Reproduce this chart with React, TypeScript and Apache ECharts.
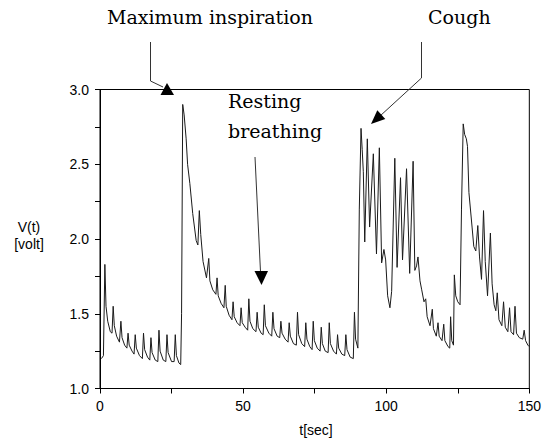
import React, { useEffect, useRef } from "react";
import * as echarts from "echarts";

// [t (sec), V (volt)]
const restingStart: number[][] = [
  [0.5, 1.2], [1.2, 1.22], [1.7, 1.83], [2.1, 1.55], [2.7, 1.45], [3.6, 1.38], [4.2, 1.37],
  [4.6, 1.55], [5.0, 1.42], [5.8, 1.35], [6.8, 1.31], [7.3, 1.45], [7.7, 1.34], [8.6, 1.29],
  [9.4, 1.27], [9.8, 1.37], [10.2, 1.29], [11.2, 1.25], [11.9, 1.23], [12.3, 1.36], [12.7, 1.27],
  [13.8, 1.22], [14.8, 1.2], [15.2, 1.37], [15.6, 1.26], [16.6, 1.21], [17.4, 1.19], [17.8, 1.34],
  [18.2, 1.24], [19.3, 1.19], [20.2, 1.18], [20.6, 1.39], [21.0, 1.25], [22.1, 1.19], [23.0, 1.18],
  [23.4, 1.36], [23.8, 1.24], [25.0, 1.18], [25.9, 1.18], [26.3, 1.36], [26.7, 1.22], [27.6, 1.17],
  [28.2, 1.16],
];
const maxInspiration: number[][] = [
  [28.5, 1.5], [28.9, 2.9], [29.4, 2.83], [30.1, 2.67], [30.6, 2.5], [31.4, 2.37], [32.4, 2.17],
  [33.6, 1.99], [34.2, 1.96], [34.7, 2.19], [35.2, 2.03], [36.0, 1.85], [37.2, 1.74], [38.0, 1.87],
  [38.4, 1.72], [39.4, 1.66], [40.5, 1.63], [40.9, 1.74], [41.3, 1.62], [42.3, 1.57], [43.3, 1.54],
  [43.75, 1.69], [44.1, 1.55], [45.1, 1.49], [46.1, 1.46],
];
const restingBreathing: number[][] = [
  [46.5, 1.58], [46.9, 1.48], [47.9, 1.44], [48.9, 1.42], [49.3, 1.54], [49.7, 1.44], [50.7, 1.41],
  [51.6, 1.39], [52.0, 1.6], [52.4, 1.45], [53.4, 1.4], [54.5, 1.38], [54.9, 1.51], [55.3, 1.41],
  [56.3, 1.37], [57.0, 1.36], [57.4, 1.56], [57.8, 1.42], [59.0, 1.37], [60.0, 1.35], [60.4, 1.51],
  [60.8, 1.4], [61.9, 1.35], [62.8, 1.34], [63.2, 1.45], [63.6, 1.37], [64.7, 1.33], [65.7, 1.31],
  [66.1, 1.44], [66.5, 1.35], [67.6, 1.3], [68.6, 1.29], [69.0, 1.51], [69.4, 1.36], [70.5, 1.3],
  [71.5, 1.28], [71.9, 1.44], [72.3, 1.33], [73.3, 1.28], [74.1, 1.26], [74.5, 1.45], [74.9, 1.32],
  [75.9, 1.27], [76.9, 1.25], [77.3, 1.41], [77.7, 1.3], [78.7, 1.25], [79.7, 1.24], [80.1, 1.44],
  [80.5, 1.3], [81.6, 1.25], [82.6, 1.23], [83.0, 1.36], [83.4, 1.27], [84.5, 1.23], [85.5, 1.22],
  [85.9, 1.36], [86.3, 1.26], [87.4, 1.21], [88.5, 1.2], [88.9, 1.51], [89.3, 1.33], [90.1, 1.27],
];
const cough: number[][] = [
  [90.6, 2.2], [91.2, 2.74], [91.6, 2.6], [92.0, 2.45], [92.5, 1.98], [93.4, 2.67], [94.2, 2.08],
  [95.5, 2.57], [96.6, 1.9], [97.6, 2.61], [98.4, 1.84], [99.2, 1.93], [99.8, 1.86], [100.5, 1.62],
  [101.3, 1.54], [101.9, 1.65], [103.0, 2.54], [103.8, 1.81], [105.0, 2.41], [105.7, 1.86],
  [107.1, 2.47], [108.2, 1.77], [109.4, 2.52], [110.0, 1.79], [110.6, 1.82], [111.1, 1.88],
  [111.8, 1.72], [112.4, 1.66], [113.2, 1.58], [113.8, 1.6], [114.3, 1.48], [115.3, 1.42],
  [116.1, 1.53], [116.5, 1.4], [117.5, 1.35], [118.1, 1.44], [118.5, 1.35], [119.5, 1.32],
  [120.1, 1.43], [120.5, 1.32], [121.6, 1.28], [122.2, 1.27], [122.5, 1.48], [122.9, 1.32],
  [123.5, 1.29], [123.8, 1.76], [124.3, 1.62], [125.0, 1.58], [125.8, 1.56],
];
const secondInspiration: number[][] = [
  [126.3, 2.2], [126.9, 2.77], [127.4, 2.7], [128.0, 2.67], [128.4, 2.62], [128.9, 2.31],
  [130.0, 2.08], [130.6, 1.95], [131.3, 1.92], [132.0, 2.09], [132.6, 1.88], [133.3, 1.73],
  [134.0, 2.19], [134.6, 1.85], [135.4, 1.62], [136.4, 2.04], [137.0, 1.7], [137.7, 1.56],
  [138.3, 1.52], [138.8, 1.64], [139.4, 1.46], [140.4, 1.42], [141.0, 1.58], [141.6, 1.41],
  [142.5, 1.38], [143.1, 1.54], [143.6, 1.38], [144.5, 1.36], [145.0, 1.55], [145.5, 1.37],
  [146.5, 1.34], [147.7, 1.33], [148.2, 1.39], [148.7, 1.32], [149.5, 1.29], [150.0, 1.28],
];

const xTicks = { min: 0, max: 150, interval: 50 };
const yTicks = { min: 1, max: 3, interval: 0.5 };

const SERIF = "DejaVu Serif";
const SANS = "Liberation Sans";

export default function App() {
  const ref = useRef<HTMLDivElement>(null);
  useEffect(() => {
    if (!ref.current) return;
    const chart = echarts.init(ref.current, undefined, { renderer: "svg" });
    const data = [
      ...restingStart,
      ...maxInspiration,
      ...restingBreathing,
      ...cough,
      ...secondInspiration,
    ];
    const axisCommon = {
      axisLine: { show: true, lineStyle: { color: "#000", width: 1 } },
      axisTick: { show: true, inside: false, length: 5, lineStyle: { color: "#000" } },
      minorTick: { show: true, splitNumber: 2, length: 5, lineStyle: { color: "#000" } },
      splitLine: { show: false },
    };
    const annColor = "#333";
    chart.setOption({
      animation: false,
      backgroundColor: "#fff",
      grid: {
        left: 100,
        right: 12,
        top: 89.5,
        bottom: 59.5,
        show: true,
        borderColor: "#000",
        borderWidth: 1,
        backgroundColor: "transparent",
      },
      xAxis: {
        type: "value",
        ...xTicks,
        ...axisCommon,
        axisLabel: { color: "#000", fontFamily: SANS, fontSize: 14, margin: 10 },
      },
      yAxis: {
        type: "value",
        ...yTicks,
        ...axisCommon,
        axisLabel: {
          color: "#000",
          fontFamily: SANS,
          fontSize: 14,
          margin: 11,
          formatter: (v: number) => v.toFixed(1),
        },
      },
      series: [
        {
          type: "line",
          data,
          showSymbol: false,
          symbol: "none",
          lineStyle: { color: "#1a1a1a", width: 1 },
        },
      ],
      graphic: [
        { type: "text", left: 107, top: 7, style: { text: "Maximum inspiration", font: `19px "${SERIF}"`, fill: "#000" } },
        { type: "text", left: 428, top: 7, style: { text: "Cough", font: `19px "${SERIF}"`, fill: "#000" } },
        { type: "text", left: 228, top: 91, style: { text: "Resting", font: `19px "${SERIF}"`, fill: "#000" } },
        { type: "text", left: 228, top: 121, style: { text: "breathing", font: `19px "${SERIF}"`, fill: "#000" } },
        { type: "polyline", shape: { points: [[150.5, 42], [150.5, 81], [163, 87]] }, style: { stroke: annColor, lineWidth: 1, fill: null } },
        { type: "polygon", shape: { points: [[167, 83], [160.5, 95], [174, 95]] }, style: { fill: "#000" } },
        { type: "polyline", shape: { points: [[421.5, 42], [421.5, 78], [380, 116]] }, style: { stroke: annColor, lineWidth: 1, fill: null } },
        { type: "polygon", shape: { points: [[371, 124], [385.3, 119], [377.3, 110.2]] }, style: { fill: "#000" } },
        { type: "line", shape: { x1: 255, y1: 157, x2: 260.5, y2: 272 }, style: { stroke: annColor, lineWidth: 1 } },
        { type: "polygon", shape: { points: [[261.5, 285], [254.5, 271], [268, 271]] }, style: { fill: "#000" } },
        { type: "text", x: 29, y: 227, style: { text: "V(t)", font: `14px "${SANS}"`, fill: "#000", align: "center", verticalAlign: "middle" } },
        { type: "text", x: 29, y: 244, style: { text: "[volt]", font: `14px "${SANS}"`, fill: "#000", align: "center", verticalAlign: "middle" } },
        { type: "text", x: 316, y: 430, style: { text: "t[sec]", font: `14px "${SANS}"`, fill: "#000", align: "center", verticalAlign: "middle" } },
      ],
    });
    return () => chart.dispose();
  }, []);
  return (
    <div
      ref={ref}
      style={{ position: "fixed", left: 0, top: 0, width: 544, height: 448 }}
    />
  );
}
